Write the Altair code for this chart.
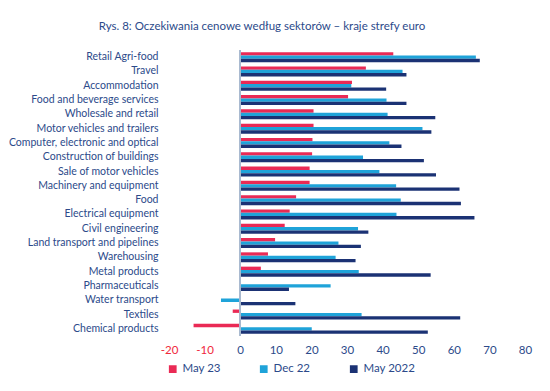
import altair as alt
import pandas as pd

categories = [
    "Retail Agri-food", "Travel", "Accommodation", "Food and beverage services",
    "Wholesale and retail", "Motor vehicles and trailers", "Computer, electronic and optical",
    "Construction of buildings", "Sale of motor vehicles", "Machinery and equipment",
    "Food", "Electrical equipment", "Civil engineering", "Land transport and pipelines",
    "Warehousing", "Metal products", "Pharmaceuticals", "Water transport", "Textiles",
    "Chemical products",
]
may23 = [43.0, 35.3, 31.4, 30.3, 20.6, 20.6, 20.3, 20.2, 19.5, 19.5,
         15.7, 13.9, 12.5, 9.8, 7.8, 5.8, 0.0, -0.3, -2.1, -13.1]
dec22 = [66.2, 45.6, 31.2, 41.1, 41.4, 51.2, 41.9, 34.5, 39.1, 43.8,
         45.1, 43.9, 33.1, 27.6, 26.8, 33.3, 25.4, -5.4, 34.1, 20.1]
may22 = [67.3, 46.7, 41.0, 46.7, 54.8, 53.7, 45.3, 51.6, 55.0, 61.6,
         62.0, 65.8, 36.0, 33.9, 32.4, 53.5, 13.7, 15.5, 61.8, 52.7]
series = ["May 23", "Dec 22", "May 2022"]
colors = ["#ea2a55", "#1fa3d9", "#1b3274"]
ticks = list(range(-20, 81, 10))

rows = []
for s, vals in zip(series, [may23, dec22, may22]):
    for c, v in zip(categories, vals):
        rows.append({"category": c, "series": s, "value": v})
df = pd.DataFrame(rows)

navy = "#2c4a8a"
font = "Lato"

bars = alt.Chart(df).mark_bar().encode(
    x=alt.X("value:Q", scale=alt.Scale(domain=[-20, 80], nice=False),
            axis=alt.Axis(values=ticks, tickCount=11, title=None, domain=False, ticks=False,
                          grid=False, labelFont=font, labelFontSize=11.5, labelPadding=8,
                          labelOverlap=False, labelSeparation=0, labelFlush=False,
                          labelExpr="'' + datum.value",
                          labelColor={"expr": "datum.value < 0 ? '#f0283c' : '" + navy + "'"})),
    y=alt.Y("category:N", sort=categories,
            scale=alt.Scale(paddingInner=0.3, paddingOuter=0.15),
            axis=alt.Axis(title=None, domain=False, ticks=False, labelFont=font,
                          labelFontSize=10.5, labelColor=navy, labelPadding=11, labelLimit=200)),
    yOffset=alt.YOffset("series:N", sort=series, scale=alt.Scale(paddingInner=0, paddingOuter=0)),
    color=alt.Color("series:N", sort=series,
                    scale=alt.Scale(domain=series, range=colors),
                    legend=alt.Legend(title=None, orient="none", legendX=-2, legendY=313,
                                      direction="horizontal", symbolType="square", symbolSize=60,
                                      labelFont=font, labelFontSize=11.5, labelColor=navy,
                                      columnPadding=37, symbolStrokeWidth=0)),
)

rule = alt.Chart(df).mark_rule(color="#a9b9cf", strokeWidth=1.2).encode(
    x=alt.datum(0)
)

chart = alt.layer(bars, rule).properties(
    width=356, height=286,
    title=alt.TitleParams("Rys. 8: Oczekiwania cenowe według sektorów – kraje strefy euro",
                          font=font, fontSize=11.5, fontWeight="normal", color=navy,
                          anchor="middle", dx=-85, offset=17),
    autosize=alt.AutoSizeParams(type="none"),
    padding={"left": 161, "top": 42, "right": 17, "bottom": 47},
).configure_view(stroke=None).configure_axisX(labelOverlap=False)

chart.save("out.html", embed_options={"renderer": "svg", "actions": False})
